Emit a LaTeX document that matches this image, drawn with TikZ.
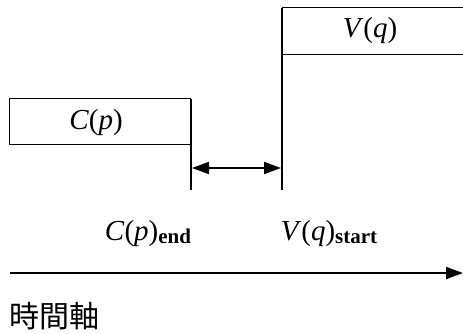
\documentclass[tikz,border=0pt]{standalone}
\usepackage{fontspec}
\setmainfont{Liberation Serif}
\newfontfamily\cjk{Noto Sans CJK JP}
\usetikzlibrary{arrows.meta}
\tikzset{
  boxline/.style={line width=1pt},
  edge/.style={line width=2pt},
  lbl/.style={font=\fontsize{29}{32}\selectfont, inner sep=0pt},
  tip/.style={-{Triangle[length=17pt,width=12pt]}}
}
\newcommand{\subbf}[1]{\raisebox{-0.12em}{\fontsize{21}{23}\selectfont\bfseries #1}}
\begin{document}
\begin{tikzpicture}[x=1pt,y=-1pt]
\useasboundingbox (0,0) rectangle (463,334);
% C(p) box
\draw[boxline] (191,99) -- (9,99) -- (9,145) -- (191,145);
\node[lbl] (cp) at (96,123) {\textit{C}(\textit{p})};
\coordinate (cTop) at (191,99);
\coordinate (cBot) at (191,190);
\draw[edge] (cTop) -- (cBot);
% V(q) box
\draw[boxline] (463,8) -- (282,8);
\draw[boxline] (282,55) -- (463,55);
\node[lbl] (vq) at (370,31) {\textit{V}(\textit{q})};
\coordinate (vTop) at (282,8);
\coordinate (vBot) at (282,190);
\draw[edge] (vTop) -- (vBot);
% gap arrow
\coordinate (ga) at (192,168);
\coordinate (gb) at (281,168);
\draw[edge,{Triangle[length=17pt,width=12pt]}-{Triangle[length=17pt,width=12pt]}] (ga) -- (gb);
% labels
\node[lbl,anchor=base] (cend) at (148,240) {\textit{C}(\textit{p})\subbf{end}};
\node[lbl,anchor=base] (vstart) at (329,240) {\textit{V}(\textit{q})\subbf{start}};
% time axis
\coordinate (ax1) at (10,273);
\coordinate (ax2) at (463,273);
\draw[edge,tip] (ax1) -- (ax2);
\node[font=\cjk\fontsize{30}{32}\selectfont, inner sep=0pt, anchor=west] (axis) at (9,316) {時間軸};
\end{tikzpicture}
\end{document}
